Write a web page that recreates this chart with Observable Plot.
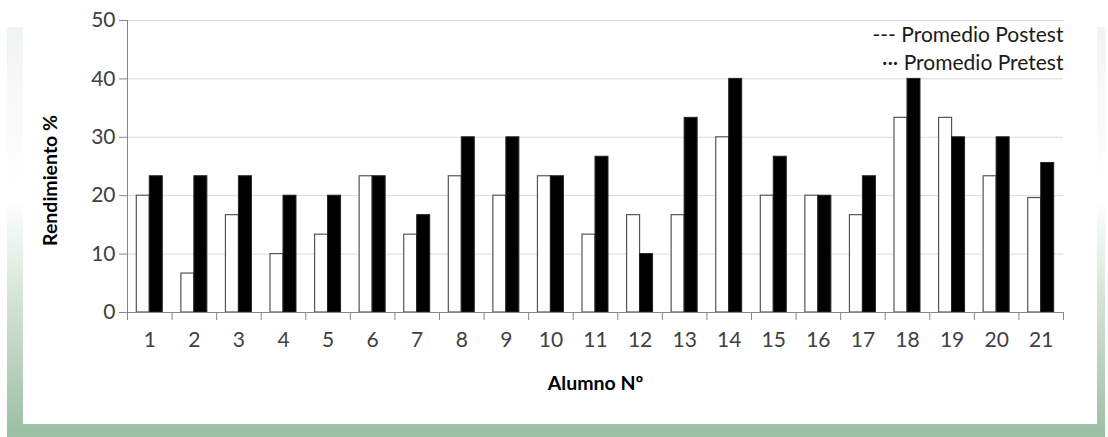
<!DOCTYPE html>
<html><head><meta charset="utf-8">
<script src="https://cdn.jsdelivr.net/npm/d3@7"></script>
<script src="https://cdn.jsdelivr.net/npm/@observablehq/plot@0.6"></script>
<style>
html,body{margin:0;padding:0;background:#fff;}
#wrap{position:relative;width:1108px;height:437px;overflow:hidden;font-family:Lato,sans-serif;}
#outer{position:absolute;left:7px;top:27px;width:1098px;height:410px;background:linear-gradient(to bottom,#f1f5f2 0%,#ffffff 42%,#9bbea2 100%);}
#inner{position:absolute;left:23px;top:0;width:1074px;height:424px;background:#fff;}
#chart{position:absolute;left:0;top:0;}
</style></head>
<body><div id="wrap"><div id="outer"></div><div id="inner"></div><div id="chart"></div></div>
<script>
const alumnos = ["1","2","3","4","5","6","7","8","9","10","11","12","13","14","15","16","17","18","19","20","21"];
const pretest = [20, 6.67, 16.67, 10, 13.33, 23.33, 13.33, 23.33, 20, 23.33, 13.33, 16.67, 16.67, 30, 20, 20, 16.67, 33.33, 33.33, 23.33, 19.6];
const postest = [23.33, 23.33, 23.33, 20, 20, 23.33, 16.67, 30, 30, 23.33, 26.67, 10, 33.33, 40, 26.67, 20, 23.33, 40, 30, 30, 25.6];
const yTicks = [0, 10, 20, 30, 40, 50];
const legendLabels = ["--- Promedio Postest", "··· Promedio Pretest"];
const xTitle = "Alumno Nº";
const yTitle = "Rendimiento %";

const W = 1108, H = 437, mL = 127, mR = 45, mT = 20, mB = 125;
const step = (W - mL - mR) / alumnos.length;
const rows = alumnos.map((a, i) => ({alumno: a, pre: pretest[i], post: postest[i]}));
const axisGray = "#868686";

const chart = Plot.plot({
  width: W, height: H,
  marginLeft: mL, marginRight: mR, marginTop: mT, marginBottom: mB,
  style: {background: "transparent", fontFamily: "Lato, sans-serif", color: "#404040"},
  x: {domain: alumnos, padding: 0, round: false, label: null},
  y: {domain: [0, 50], label: null},
  marks: [
    Plot.gridY(yTicks, {stroke: "#d9d9d9", strokeOpacity: 1}),
    Plot.barY(rows, {x: "alumno", y: "pre", fill: "white", stroke: "#555", strokeWidth: 1.2, insetLeft: 9.3, insetRight: step / 2}),
    Plot.barY(rows, {x: "alumno", y: "post", fill: "black", stroke: "#222", strokeWidth: 1, insetLeft: step / 2, insetRight: 9.3}),
    Plot.ruleY([0], {stroke: axisGray}),
    Plot.frame({anchor: "left", stroke: axisGray}),
    Plot.axisY(yTicks, {tickSize: 8, tickPadding: 4, fontSize: 21, stroke: axisGray, label: null}),
    Plot.axisX(alumnos, {tickSize: 8, dx: -step / 2, tickFormat: () => "", stroke: axisGray, label: null}),
    Plot.axisX(alumnos.slice(-1), {tickSize: 8, dx: step / 2, tickFormat: () => "", stroke: axisGray, label: null}),
    Plot.axisX(alumnos, {tickSize: 0, tickPadding: 20, fontSize: 21, label: null}),
    Plot.text(legendLabels.slice(0, 1), {frameAnchor: "top-right", text: d => d, textAnchor: "end", lineAnchor: "middle", dy: 15, fontSize: 21, fill: "#1a1a1a"}),
    Plot.text(legendLabels.slice(1, 2), {frameAnchor: "top-right", text: d => d, textAnchor: "end", lineAnchor: "middle", dy: 43, fontSize: 21, fill: "#1a1a1a"}),
    Plot.text([yTitle], {frameAnchor: "left", text: d => d, rotate: -90, textAnchor: "middle", lineAnchor: "middle", dx: -77, dy: 14, fontWeight: "bold", fontSize: 19.5, fill: "black"}),
    Plot.text([xTitle], {frameAnchor: "bottom", text: d => d, textAnchor: "middle", lineAnchor: "middle", dy: 71, fontWeight: "bold", fontSize: 19.5, fill: "black"})
  ]
});
document.getElementById("chart").appendChild(chart);
</script>
</body></html>
